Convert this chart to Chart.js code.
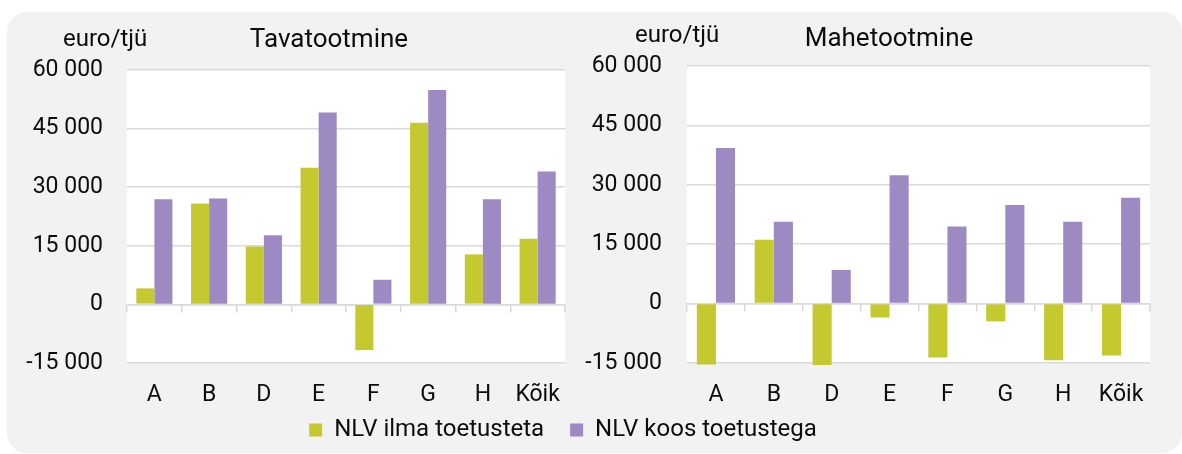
<!DOCTYPE html>
<html>
<head>
<meta charset="utf-8">
<script src="https://cdn.jsdelivr.net/npm/chart.js@4.4.1/dist/chart.umd.min.js"></script>
<style>
html,body{margin:0;padding:0;background:#ffffff;width:1182px;height:454px;overflow:hidden;font-family:Roboto,sans-serif}
#bg{position:absolute;left:7px;top:12px;width:1175px;height:441px;background:#f2f2f2;border-radius:20px}
canvas{position:absolute;display:block}
</style>
</head>
<body>
<div id="bg"></div>
<canvas id="left" width="600" height="425" style="left:0;top:0"></canvas>
<canvas id="right" width="612" height="425" style="left:570px;top:0"></canvas>
<canvas id="legend" width="1126" height="160" style="left:0;top:392px"></canvas>
<script>
// ---- data ----
const categories = ['A', 'B', 'D', 'E', 'F', 'G', 'H', 'Kõik'];
const seriesNames = ['NLV ilma toetusteta', 'NLV koos toetustega'];
const tavaIlma = [4100, 25800, 14800, 35000, -11700, 46500, 12800, 16800];
const tavaKoos = [26900, 27100, 17700, 49100, 6300, 54900, 26900, 34000];
const maheIlma = [-15400, 16100, -15500, -3500, -13600, -4500, -14300, -13100];
const maheKoos = [39300, 20700, 8500, 32400, 19500, 24900, 20700, 26700];
const panelTitles = ['Tavatootmine', 'Mahetootmine'];
const unitLabel = 'euro/tjü';
const yTicks = [-15000, 0, 15000, 30000, 45000, 60000];

// ---- styles ----
const GREEN = '#c4c930';
const PURPLE = '#9d8ac2';
const GRID = '#d9d9d9';
const TEXT = '#0d0d0d';
const FONT = 'Roboto';

function fmt(v) {
  const s = Math.abs(v).toString().replace(/\B(?=(\d{3})+(?!\d))/g, ' ');
  return (v < 0 ? '-' : '') + s;
}

const plotBackground = {
  id: 'plotBackground',
  beforeDraw(chart) {
    const a = chart.chartArea, c = chart.ctx;
    c.save();
    c.fillStyle = '#ffffff';
    c.fillRect(a.left, a.top, a.right - a.left, a.bottom - a.top);
    c.restore();
  }
};

const panelText = {
  id: 'panelText',
  afterDraw(chart, args, o) {
    const c = chart.ctx;
    c.save();
    c.fillStyle = TEXT;
    c.textBaseline = 'alphabetic';
    c.font = o.titleSize + 'px ' + FONT;
    c.textAlign = 'center';
    c.fillText(o.title, o.titleX, o.titleY);
    c.font = o.unitSize + 'px ' + FONT;
    c.textAlign = 'left';
    c.fillText(o.unit, o.unitX, o.unitY);
    c.restore();
  }
};

function panel(id, ilma, koos, title, L) {
  const common = { categoryPercentage: 0.66, barPercentage: 1, borderWidth: 0, clip: { left: 0, right: 0, top: 0, bottom: 2 } };
  return new Chart(document.getElementById(id), {
    type: 'bar',
    data: {
      labels: categories,
      datasets: [
        Object.assign({ label: seriesNames[0], data: ilma, backgroundColor: GREEN }, common),
        Object.assign({ label: seriesNames[1], data: koos, backgroundColor: PURPLE }, common)
      ]
    },
    options: {
      responsive: false,
      animation: false,
      devicePixelRatio: 1,
      layout: { padding: { left: 0, right: L.padRight, top: L.padTop, bottom: L.padBottom } },
      plugins: {
        legend: { display: false },
        tooltip: { enabled: false },
        panelText: { title: title, unit: unitLabel, titleSize: 26, unitSize: 24,
          titleX: L.titleX, titleY: L.titleY, unitX: L.unitX, unitY: L.unitY }
      },
      scales: {
        x: {
          type: 'category', position: 'bottom', offset: true,
          grid: { display: false }, border: { display: false },
          ticks: { color: TEXT, font: { family: FONT, size: 23 }, padding: L.xPad, maxRotation: 0, autoSkip: false }
        },
        x0: {
          type: 'category', axis: 'x', position: { y: 0 }, offset: true,
          grid: { offset: true, drawOnChartArea: false, drawTicks: true, tickLength: 7, color: GRID, lineWidth: 1.5 },
          border: { display: true, color: GRID, width: 1.5 },
          ticks: { display: false },
          afterFit: s => { s.height = 0; }
        },
        y: {
          min: yTicks[0], max: yTicks[yTicks.length - 1],
          afterBuildTicks: s => { s.ticks = yTicks.map(v => ({ value: v })); },
          afterFit: s => { s.width = L.yWidth; },
          grid: { color: GRID, lineWidth: 1.5, drawTicks: false },
          border: { display: false },
          ticks: { padding: L.yPad, color: TEXT, font: { family: FONT, size: 23 }, callback: v => fmt(v) }
        }
      }
    },
    plugins: [plotBackground, panelText]
  });
}

panel('left', tavaIlma, tavaKoos, panelTitles[0], {
  padRight: 35, padTop: 70, padBottom: 6.4, xPad: 10, yWidth: 127, yPad: 24,
  titleX: 329, titleY: 47, unitX: 63, unitY: 46
});
panel('right', maheIlma, maheKoos, panelTitles[1], {
  padRight: 32, padTop: 66, padBottom: 6.4, xPad: 10, yWidth: 117, yPad: 25,
  titleX: 319, titleY: 46, unitX: 65, unitY: 42
});

new Chart(document.getElementById('legend'), {
  type: 'bar',
  data: {
    labels: [],
    datasets: [
      { label: seriesNames[0], data: [], backgroundColor: GREEN, borderWidth: 0 },
      { label: seriesNames[1], data: [], backgroundColor: PURPLE, borderWidth: 0 }
    ]
  },
  options: {
    responsive: false,
    animation: false,
    devicePixelRatio: 1,
    layout: { padding: 0 },
    scales: { x: { display: false }, y: { display: false } },
    plugins: {
      tooltip: { enabled: false },
      legend: {
        display: true, position: 'top', align: 'center',
        labels: { color: TEXT, font: { family: FONT, size: 24 }, boxWidth: 13, boxHeight: 13, padding: 26 }
      }
    }
  }
});
</script>
</body>
</html>
